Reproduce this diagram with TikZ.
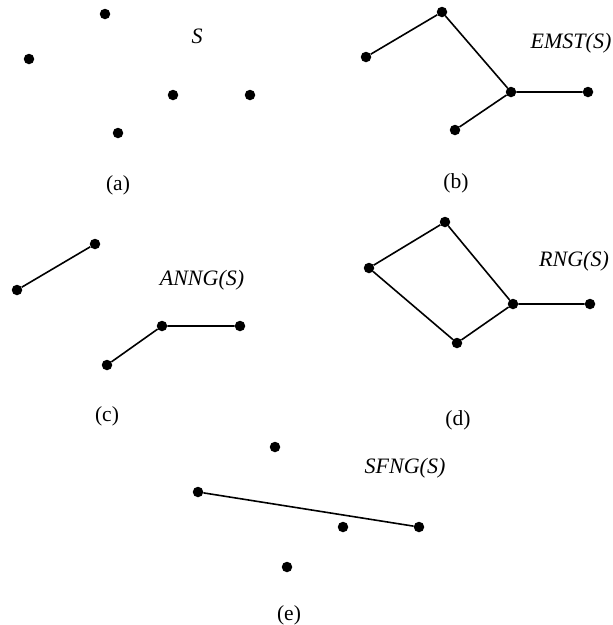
\documentclass[tikz,border=0pt]{standalone}
\usepackage{fontspec}
\setmainfont{Liberation Serif}
\begin{document}
\begin{tikzpicture}[x=1pt,y=-1pt,
  pt/.style={circle,fill=black,inner sep=0pt,minimum size=10.5pt},
  edge/.style={line width=1.6pt},
  lbl/.style={font=\fontsize{22}{24}\selectfont\itshape,inner sep=0pt},
  captxt/.style={font=\fontsize{21.5}{24}\selectfont,inner sep=0pt}]
\useasboundingbox (0,0) rectangle (613,625);
% (a)
\node[pt] (a1) at (105,14) {};
\node[pt] (a2) at (29,59) {};
\node[pt] (a3) at (173,95) {};
\node[pt] (a4) at (250,95) {};
\node[pt] (a5) at (118,133) {};
\node[lbl] (aS) at (197,36) {S};
\node[captxt] (ca) at (118,185) {(a)};
% (b)
\node[pt] (b1) at (442,12) {};
\node[pt] (b2) at (366,57) {};
\node[pt] (b3) at (511,92) {};
\node[pt] (b4) at (588,92) {};
\node[pt] (b5) at (455,130) {};
\draw[edge] (b2) -- (b1) -- (b3) -- (b4);
\draw[edge] (b3) -- (b5);
\node[lbl] (bS) at (571,43) {EMST(S)};
\node[captxt] (cb) at (456,183) {(b)};
% (c)
\node[pt] (c1) at (95,244) {};
\node[pt] (c2) at (17,290) {};
\node[pt] (c3) at (162,326) {};
\node[pt] (c4) at (240,326) {};
\node[pt] (c5) at (107,365) {};
\draw[edge] (c2) -- (c1);
\draw[edge] (c5) -- (c3) -- (c4);
\node[lbl] (cS) at (202,280) {ANNG(S)};
\node[captxt] (cc) at (107,416) {(c)};
% (d)
\node[pt] (d1) at (445,222) {};
\node[pt] (d2) at (369,268) {};
\node[pt] (d3) at (513,304) {};
\node[pt] (d4) at (590,304) {};
\node[pt] (d5) at (457,343) {};
\draw[edge] (d2) -- (d1) -- (d3) -- (d4);
\draw[edge] (d3) -- (d5) -- (d2);
\node[lbl] (dS) at (574,261) {RNG(S)};
\node[captxt] (cd) at (458,420) {(d)};
% (e)
\node[pt] (e1) at (275,447) {};
\node[pt] (e2) at (198,492) {};
\node[pt] (e3) at (343,527) {};
\node[pt] (e4) at (419,527) {};
\node[pt] (e5) at (287,567) {};
\draw[edge] (e2) -- (e4);
\node[lbl] (eS) at (405,468) {SFNG(S)};
\node[captxt] (ce) at (289,615) {(e)};
\end{tikzpicture}
\end{document}
